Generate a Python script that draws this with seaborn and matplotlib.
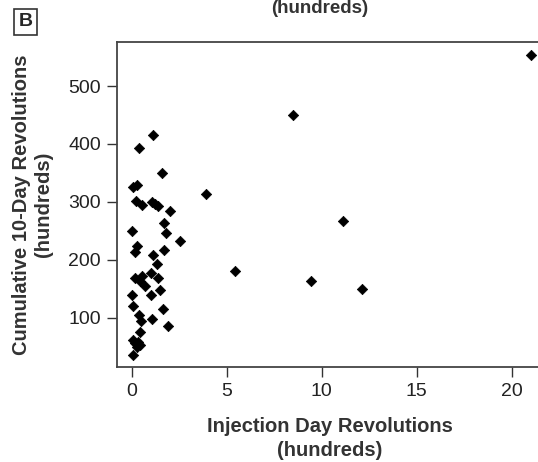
import matplotlib
matplotlib.use("Agg")
import matplotlib.pyplot as plt
import seaborn as sns
import pandas as pd

# DATA (hundreds of revolutions)

injection_day = [21.0, 8.5, 3.9, 11.1, 5.45, 9.45, 12.1,
                 1.14, 0.37, 1.58, 0.05, 0.28, 0.21, 0.56, 1.07, 1.25, 1.38,
                 2.03, 1.7, 1.82, 0.02,
                 2.54, 0.3, 0.17, 1.14, 1.72, 1.35, 1.0, 0.17, 0.53, 0.44,
                 0.7, 1.37, 1.47, 0.04, 1.0,
                 0.05, 1.63, 0.38, 0.47, 1.05, 1.9, 0.44, 0.08, 0.35, 0.17,
                 0.44, 0.26, 0.08]
cumulative_10day = [553, 450, 313, 267, 181, 164, 150,
                    415, 393, 350, 326, 330, 302, 294, 300, 296, 293,
                    284, 264, 247, 250,
                    232, 224, 214, 209, 217, 193, 177, 168, 172, 163,
                    155, 168, 148, 139, 140,
                    121, 115, 105, 94, 98, 85, 75, 62, 59, 56,
                    53, 50, 36]

x_ticks = [0, 5, 10, 15, 20]
y_ticks = [100, 200, 300, 400, 500]

df = pd.DataFrame({"inj": injection_day, "cum": cumulative_10day})

# STYLE

sns.set_style("ticks")
plt.rcParams["font.family"] = ["Liberation Sans", "DejaVu Sans"]

fig = plt.figure(figsize=(5.38, 4.62), dpi=100)
ax = fig.add_axes([117 / 538, 1 - 367 / 462, 428 / 538, 325 / 462])

sns.scatterplot(data=df, x="inj", y="cum", marker="D", s=28,
                color="black", edgecolor="black", linewidth=0.5, ax=ax)

ax.set_xlim(-0.77, 21.75)
ax.set_ylim(15, 576)
ax.set_xticks(x_ticks)
ax.set_yticks(y_ticks)
ax.tick_params(axis="both", direction="out", length=7.5, width=1.0,
               color="#333333", labelsize=14, pad=4, labelcolor="#222222")

for side in ["left", "bottom", "top", "right"]:
    ax.spines[side].set_linewidth(1.3)
    ax.spines[side].set_color("#444444")

ax.set_xlabel("Injection Day Revolutions\n(hundreds)", fontsize=14.5,
              fontweight="bold", color="#333333", linespacing=1.3)
ax.set_ylabel("Cumulative 10-Day Revolutions\n(hundreds)", fontsize=14.5,
              fontweight="bold", color="#333333", linespacing=1.2)
ax.xaxis.set_label_coords((330 - 117) / 428, (367 - 417) / 325)
ax.yaxis.set_label_coords((53 - 117) / 428, 0.5)

# label left over from the panel above, and the panel letter
fig.text(320 / 538, 1.0, "(hundreds)", fontsize=13.5, fontweight="bold",
         color="#333333", ha="center", va="top")
fig.text(25.5 / 538, 1 - 22 / 462, "B", fontsize=14, fontweight="bold",
         ha="center", va="center",
         bbox=dict(boxstyle="square,pad=0.25", facecolor="white",
                   edgecolor="#333333", linewidth=1.2))

fig.savefig("out.png", dpi=100)
